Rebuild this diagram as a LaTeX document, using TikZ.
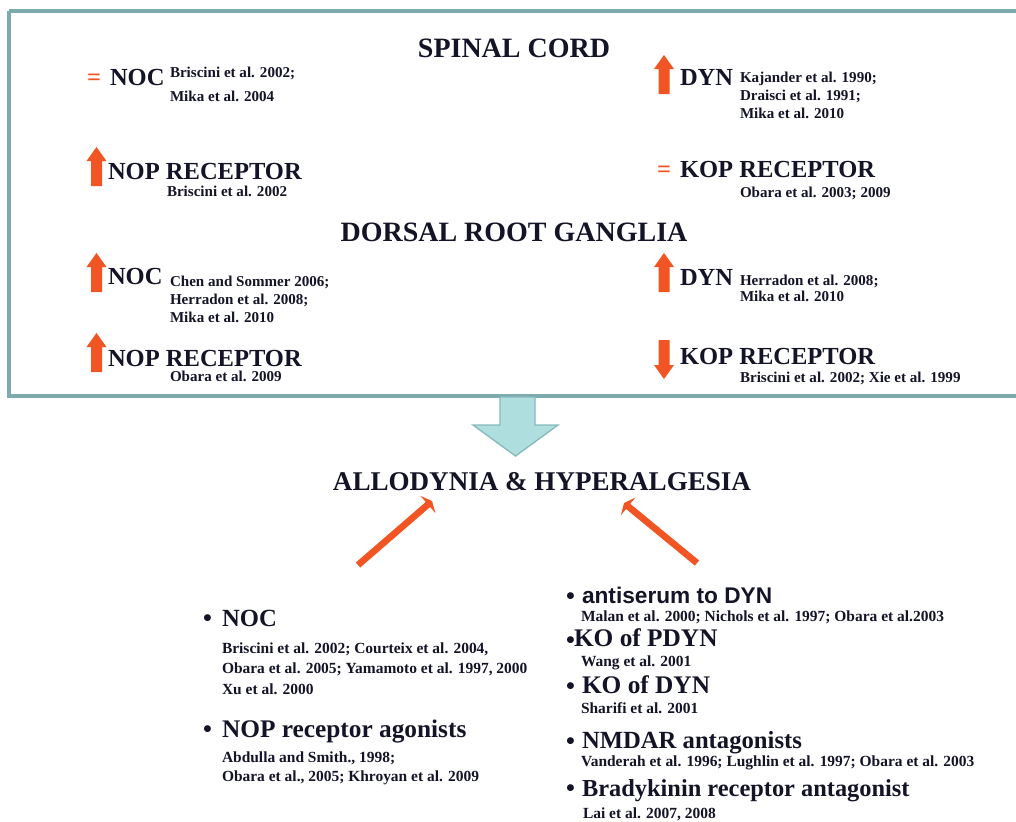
\documentclass[tikz,border=0pt]{standalone}
\usepackage{fontspec}
\setmainfont{Liberation Serif}
\newfontfamily\arialbf{Liberation Sans}
\usetikzlibrary{arrows.meta}
\definecolor{ink}{RGB}{20,20,40}
\definecolor{orng}{RGB}{240,85,35}
\definecolor{frame}{RGB}{125,170,172}
\definecolor{bigfill}{RGB}{175,222,222}
\definecolor{bigline}{RGB}{135,185,188}
\tikzset{
  every node/.style={inner sep=0pt, outer sep=0pt, text=ink, font=\bfseries},
  title/.style={anchor=base, font=\bfseries\fontsize{21}{21}\selectfont},
  item/.style={anchor=base west, font=\bfseries\fontsize{18.4}{18.4}\selectfont},
  cite/.style={anchor=base west, font=\bfseries\fontsize{11.3}{11.3}\selectfont},
  bitem/.style={anchor=base west, font=\bfseries\fontsize{19}{19}\selectfont},
  bcite/.style={anchor=base west, font=\bfseries\fontsize{11.6}{11.6}\selectfont},
  eqsign/.style={anchor=base west, text=orng, font=\bfseries\fontsize{18.4}{18.4}\selectfont},
  bul/.style={anchor=base west, font=\bfseries\fontsize{19}{19}\selectfont},
  uparrow/.pic={\fill[orng] (0,0) -- (10,14) -- (5.5,14) -- (5.5,39) -- (-5.5,39) -- (-5.5,14) -- (-10,14) -- cycle;},
  downarrow/.pic={\fill[orng] (0,39) -- (10,25) -- (5.5,25) -- (5.5,0) -- (-5.5,0) -- (-5.5,25) -- (-10,25) -- cycle;},
  inhib/.style={draw=orng, line width=5pt, -{Triangle[width=17pt,length=4pt]}}
}
\begin{document}
\begin{tikzpicture}[x=0.75pt,y=-0.75pt]
\useasboundingbox (0,0) rectangle (1016,821);
\fill[white] (0,0) rectangle (1016,821);
% frame
\draw[frame, line width=2.4pt] (9,11) -- (1030,11) (9,11) -- (9,396) -- (1030,396);

% SPINAL CORD
\node[title] (sc) at (514,57) {SPINAL CORD};
\node[eqsign] (eq1) at (87,85) {=};
\node[item] (noc1) at (110,85) {NOC};
\node[cite] (c1a) at (170,77) {Briscini et al. 2002;};
\node[cite] (c1b) at (170,101) {Mika et al. 2004};
\pic at (96.5,147) {uparrow};
\node[item] (nop1) at (108,179) {NOP RECEPTOR};
\node[cite] (c2) at (167,196) {Briscini et al. 2002};

\pic at (664,55) {uparrow};
\node[item] (dyn1) at (680,85) {DYN};
\node[cite] (c3a) at (740,82) {Kajander et al. 1990;};
\node[cite] (c3b) at (740,100) {Draisci et al. 1991;};
\node[cite] (c3c) at (740,118) {Mika et al. 2010};
\node[eqsign] (eq2) at (657,177) {=};
\node[item] (kop1) at (680,177) {KOP RECEPTOR};
\node[cite] (c4) at (740,197) {Obara et al. 2003; 2009};

% DORSAL ROOT GANGLIA
\node[title] (drg) at (514,241) {DORSAL ROOT GANGLIA};
\pic at (96.5,253) {uparrow};
\node[item] (noc2) at (108,284) {NOC};
\node[cite] (c5a) at (170,286) {Chen and Sommer 2006;};
\node[cite] (c5b) at (170,304) {Herradon et al. 2008;};
\node[cite] (c5c) at (170,322) {Mika et al. 2010};
\pic at (96.5,333) {uparrow};
\node[item] (nop2) at (108,366) {NOP RECEPTOR};
\node[cite] (c6) at (170,381) {Obara et al. 2009};

\pic at (664,253) {uparrow};
\node[item] (dyn2) at (680,285) {DYN};
\node[cite] (c7a) at (740,285) {Herradon et al. 2008;};
\node[cite] (c7b) at (740,301) {Mika et al. 2010};
\pic at (664,340) {downarrow};
\node[item] (kop2) at (680,364) {KOP RECEPTOR};
\node[cite] (c8) at (740,382) {Briscini et al. 2002; Xie et al. 1999};

% big down arrow
\draw[bigline, fill=bigfill, line width=1pt] (500,397) -- (535,397) -- (535,425) -- (558,425) -- (515.5,456) -- (473,425) -- (500,425) -- cycle;

\node[title, font=\bfseries\fontsize{20.3}{20.3}\selectfont] (ah) at (542,490) {ALLODYNIA \& HYPERALGESIA};

% inhibitory arrows
\coordinate (la) at (358,565);
\coordinate (ra) at (697,563);
\coordinate (lt) at (432,501);
\coordinate (rt) at (624,503);
\draw[inhib] (la) -- (lt);
\draw[inhib] (ra) -- (rt);

% bottom left
\node[bul] (b1) at (203,626) {\textbullet};
\node[bitem, font=\bfseries\fontsize{18.5}{18.5}\selectfont] (nocb) at (222,626) {NOC};
\node[bcite] (c9a) at (222,653) {Briscini et al. 2002; Courteix et al. 2004,};
\node[bcite] (c9b) at (222,673) {Obara et al. 2005; Yamamoto et al. 1997, 2000};
\node[bcite] (c9c) at (222,694) {Xu et al. 2000};
\node[bul] (b2) at (203,737) {\textbullet};
\node[bitem] (nopb) at (222,737) {NOP receptor agonists};
\node[bcite] (c10a) at (222,762) {Abdulla and Smith., 1998;};
\node[bcite] (c10b) at (222,781) {Obara et al., 2005; Khroyan et al. 2009};

% bottom right
\node[bul] (b3) at (566,604) {\textbullet};
\node[anchor=base west, font=\arialbf\bfseries\fontsize{17}{17}\selectfont] (anti) at (582,603) {antiserum to DYN};
\node[bcite] (c11) at (581,621) {Malan et al. 2000; Nichols et al. 1997; Obara et al.2003};
\node[bul] (b4) at (566,648) {\textbullet};
\node[bitem] (kop) at (574,646) {KO of PDYN};
\node[bcite] (c12) at (581,666) {Wang et al. 2001};
\node[bul] (b5) at (566,694) {\textbullet};
\node[bitem] (kod) at (582,693) {KO of DYN};
\node[bcite] (c13) at (581,713) {Sharifi et al. 2001};
\node[bul] (b6) at (566,749) {\textbullet};
\node[bitem, font=\bfseries\fontsize{18.5}{18.5}\selectfont] (nmdar) at (582,748) {NMDAR antagonists};
\node[bcite] (c14) at (581,766) {Vanderah et al. 1996; Lughlin et al. 1997; Obara et al. 2003};
\node[bul] (b7) at (566,796) {\textbullet};
\node[bitem, font=\bfseries\fontsize{18.3}{18.3}\selectfont] (brady) at (582,796) {Bradykinin receptor antagonist};
\node[bcite] (c15) at (583,818) {Lai et al. 2007, 2008};
\end{tikzpicture}
\end{document}
